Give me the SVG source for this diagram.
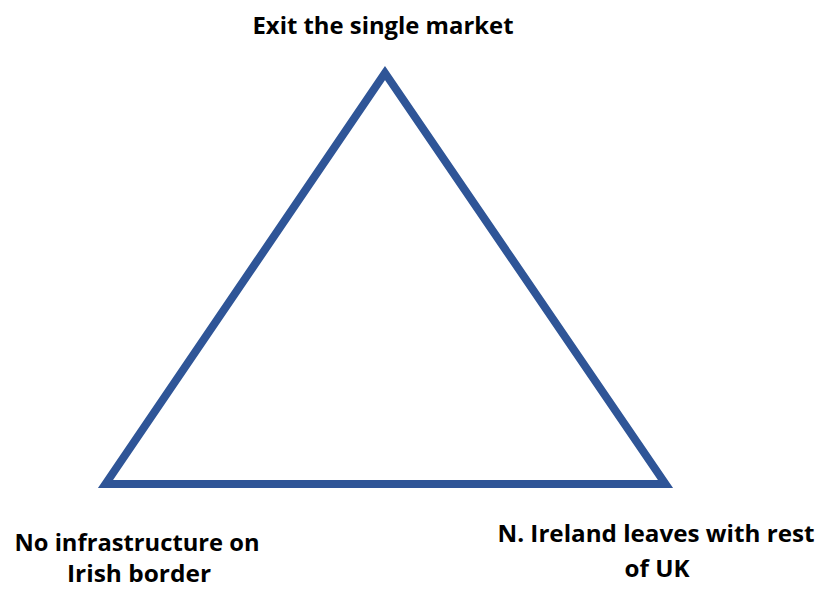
<svg xmlns="http://www.w3.org/2000/svg" width="819" height="589" viewBox="0 0 819 589">
  <style>
    .lbl { font-family: "Open Sans", "Liberation Sans", sans-serif; font-weight: bold; font-size: 24px; fill: #000; text-anchor: middle; }
    .edge { fill: none; stroke: #2F5597; stroke-width: 8; stroke-linejoin: miter; stroke-miterlimit: 10; }
  </style>
  <rect width="819" height="589" fill="#fff"/>
  <g id="connectors">
    <polygon class="edge" points="385,73 105.5,484 665.5,484"/>
  </g>
  <g id="node-top">
    <text class="lbl" x="383" y="34" textLength="261" lengthAdjust="spacingAndGlyphs">Exit the single market</text>
  </g>
  <g id="node-left">
    <text class="lbl" x="137" y="551" textLength="245" lengthAdjust="spacingAndGlyphs">No infrastructure on</text>
    <text class="lbl" x="139" y="582" textLength="144" lengthAdjust="spacingAndGlyphs">Irish border</text>
  </g>
  <g id="node-right">
    <text class="lbl" x="656" y="542" textLength="317" lengthAdjust="spacingAndGlyphs">N. Ireland leaves with rest</text>
    <text class="lbl" x="657" y="577" textLength="65" lengthAdjust="spacingAndGlyphs">of UK</text>
  </g>
</svg>
